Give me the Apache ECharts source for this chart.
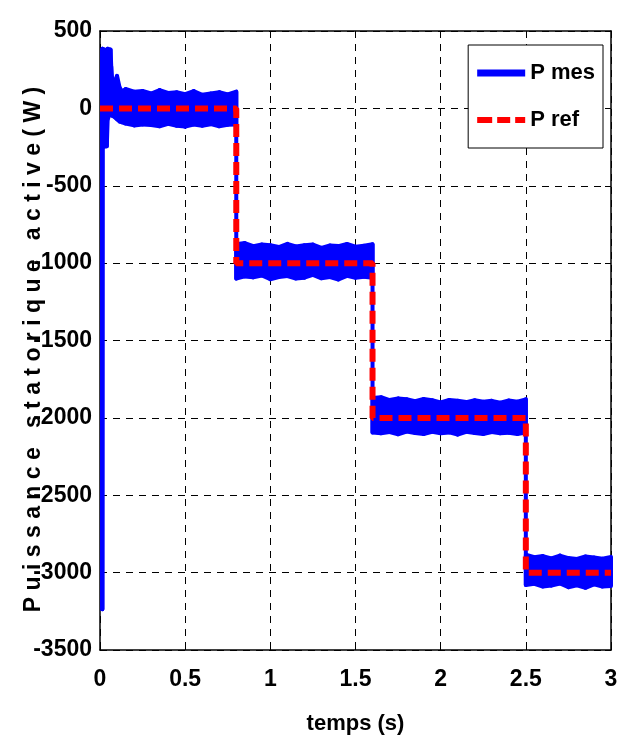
<!DOCTYPE html>
<html>
<head>
<meta charset="utf-8">
<script src="https://cdn.jsdelivr.net/npm/echarts@6/dist/echarts.min.js"></script>
<style>
  html, body { margin: 0; padding: 0; background: #fff; }
  #chart { width: 619px; height: 736px; }
</style>
</head>
<body>
<div id="chart"></div>
<script>
var FONT = '"Liberation Sans", Arial, sans-serif';

// axis ticks
var xTicks = [0, 0.5, 1, 1.5, 2, 2.5, 3];
var yTicks = [-3500, -3000, -2500, -2000, -1500, -1000, -500, 0, 500];

// P ref (steps)
var refT = [0, 0.8, 0.8, 1.6, 1.6, 2.5, 2.5, 3];
var refP = [0, 0, -1000, -1000, -2000, -2000, -3000, -3000];

// P mes : envelope of the noisy band
var mesT = [0.012, 0.014, 0.016, 0.04, 0.045, 0.062, 0.066, 0.075, 0.09, 0.1, 0.115, 0.13, 0.15, 0.2, 0.25, 0.3, 0.35, 0.4, 0.45, 0.5, 0.55, 0.6, 0.65, 0.7, 0.75, 0.8,
    0.8, 0.85, 0.9, 0.95, 1.0, 1.05, 1.1, 1.15, 1.2, 1.25, 1.3, 1.35, 1.4, 1.45, 1.5, 1.55, 1.6,
    1.6, 1.65, 1.7, 1.75, 1.8, 1.85, 1.9, 1.95, 2.0, 2.05, 2.1, 2.15, 2.2, 2.25, 2.3, 2.35, 2.4, 2.45, 2.5,
    2.5, 2.55, 2.6, 2.65, 2.7, 2.75, 2.8, 2.85, 2.9, 2.95, 3.0];
var mesHigh = [380, 385, 385, 375, 385, 380, 270, 135, 185, 210, 135, 110, 125, 108, 112, 96, 118, 100, 104, 92, 112, 88, 96, 105, 90, 108,
    -878, -870, -890, -880, -885, -896, -876, -892, -884, -880, -902, -886, -890, -876, -894, -888, -878,
    -1872, -1866, -1885, -1874, -1880, -1892, -1878, -1886, -1900, -1884, -1890, -1898, -1886, -1896, -1890, -1902, -1888, -1896, -1880,
    -2884, -2900, -2893, -2908, -2890, -2906, -2912, -2896, -2902, -2910, -2898];
var mesLow = [-3237, -3237, -250, -245, -70, -30, -35, -50, -60, -70, -85, -90, -98, -110, -104, -108, -116, -100, -112, -118, -104, -112, -102, -116, -106, -104,
    -1100, -1086, -1092, -1080, -1104, -1090, -1084, -1100, -1094, -1076, -1098, -1090, -1106, -1082, -1094, -1088, -1095,
    -2095, -2100, -2092, -2106, -2088, -2098, -2104, -2090, -2100, -2094, -2108, -2090, -2098, -2104, -2092, -2100, -2096, -2104, -2095,
    -3080, -3072, -3090, -3084, -3070, -3094, -3082, -3098, -3076, -3090, -3086];

var refData = refT.map(function (t, i) { return [t, refP[i]]; });

// one quad per interval of the envelope
var bandData = [];
for (var i = 0; i < mesT.length - 1; i++) {
    bandData.push([mesT[i], mesHigh[i], mesLow[i], mesT[i + 1], mesHigh[i + 1], mesLow[i + 1]]);
}

function renderBand(params, api) {
    var a = api.coord([api.value(0), api.value(1)]);
    var b = api.coord([api.value(3), api.value(4)]);
    var c = api.coord([api.value(3), api.value(5)]);
    var d = api.coord([api.value(0), api.value(2)]);
    return {
        type: 'polygon',
        shape: { points: [a, b, c, d] },
        style: { fill: '#0000ff', stroke: '#0000ff', lineWidth: 4, lineJoin: 'round' }
    };
}

var axisText = { fontFamily: FONT, fontWeight: 'bold', fontSize: 23, color: '#000' };
var dashGrid = { show: true, lineStyle: { color: '#000', width: 1, type: [7, 6] } };
var blackLine = { show: true, onZero: false, lineStyle: { color: '#000', width: 1.5 } };
var inTick = { show: true, inside: true, length: 6, lineStyle: { color: '#000', width: 1 } };
var plain = function (v) { return String(v); };

var xMin = xTicks[0], xMax = xTicks[xTicks.length - 1], xStep = xTicks[1] - xTicks[0];
var yMin = yTicks[0], yMax = yTicks[yTicks.length - 1], yStep = yTicks[1] - yTicks[0];

var myChart = echarts.init(document.getElementById('chart'), null, { renderer: 'canvas' });
var option = {
    animation: false,
    backgroundColor: '#fff',
    grid: { left: 100, right: 8, top: 31, bottom: 86, containLabel: false, outerBoundsMode: 'none' },
    legend: {
        orient: 'vertical',
        right: 16,
        top: 45,
        padding: [17, 8, 17, 9],
        itemGap: 25,
        itemWidth: 48,
        itemHeight: 7,
        itemTextGap: 5,
        backgroundColor: '#fff',
        borderColor: '#000',
        borderWidth: 1,
        textStyle: { fontFamily: FONT, fontWeight: 'bold', fontSize: 22, color: '#000' },
        data: [
            { name: 'P mes', icon: 'rect' },
            { name: 'P ref', icon: 'path://M0,0h15v6h-15z M20,0h13v6h-13z M38,0h10v6h-10z' }
        ]
    },
    xAxis: [{
        type: 'value', min: xMin, max: xMax, interval: xStep,
        name: 'temps (s)', nameLocation: 'middle', nameGap: 63,
        nameTextStyle: { fontFamily: FONT, fontWeight: 'bold', fontSize: 22, color: '#000' },
        axisLine: blackLine, axisTick: inTick, splitLine: dashGrid,
        axisLabel: Object.assign({ margin: 18, formatter: plain }, axisText)
    }, {
        type: 'value', min: xMin, max: xMax, interval: xStep, position: 'top',
        axisLine: blackLine, axisTick: inTick, splitLine: { show: false }, axisLabel: { show: false }
    }],
    yAxis: [{
        type: 'value', min: yMin, max: yMax, interval: yStep,
        name: 'P u i s s a n c e   s t a t o r i q u e   a c t i v e ( W )',
        nameLocation: 'middle', nameRotate: 90, nameGap: 55, nameMoveOverlap: false,
        nameTextStyle: { fontFamily: FONT, fontWeight: 'bold', fontSize: 23, color: '#000', padding: [0, 18, 0, 0] },
        axisLine: blackLine, axisTick: inTick, splitLine: dashGrid,
        axisLabel: Object.assign({ margin: 8, formatter: plain }, axisText)
    }, {
        type: 'value', min: yMin, max: yMax, interval: yStep, position: 'right',
        axisLine: blackLine, axisTick: inTick, splitLine: { show: false }, axisLabel: { show: false }
    }],
    series: [
        {
            name: 'P mes',
            type: 'custom',
            renderItem: renderBand,
            itemStyle: { color: '#0000ff' },
            encode: { x: [0, 3], y: [1, 2, 4, 5] },
            data: bandData,
            z: 2
        },
        {
            name: 'P ref',
            type: 'line',
            symbol: 'none',
            itemStyle: { color: '#ff0000' },
            lineStyle: { color: '#ff0000', width: 6, type: [13, 6] },
            data: refData,
            z: 3
        }
    ]
};
myChart.setOption(option);
</script>
</body>
</html>
